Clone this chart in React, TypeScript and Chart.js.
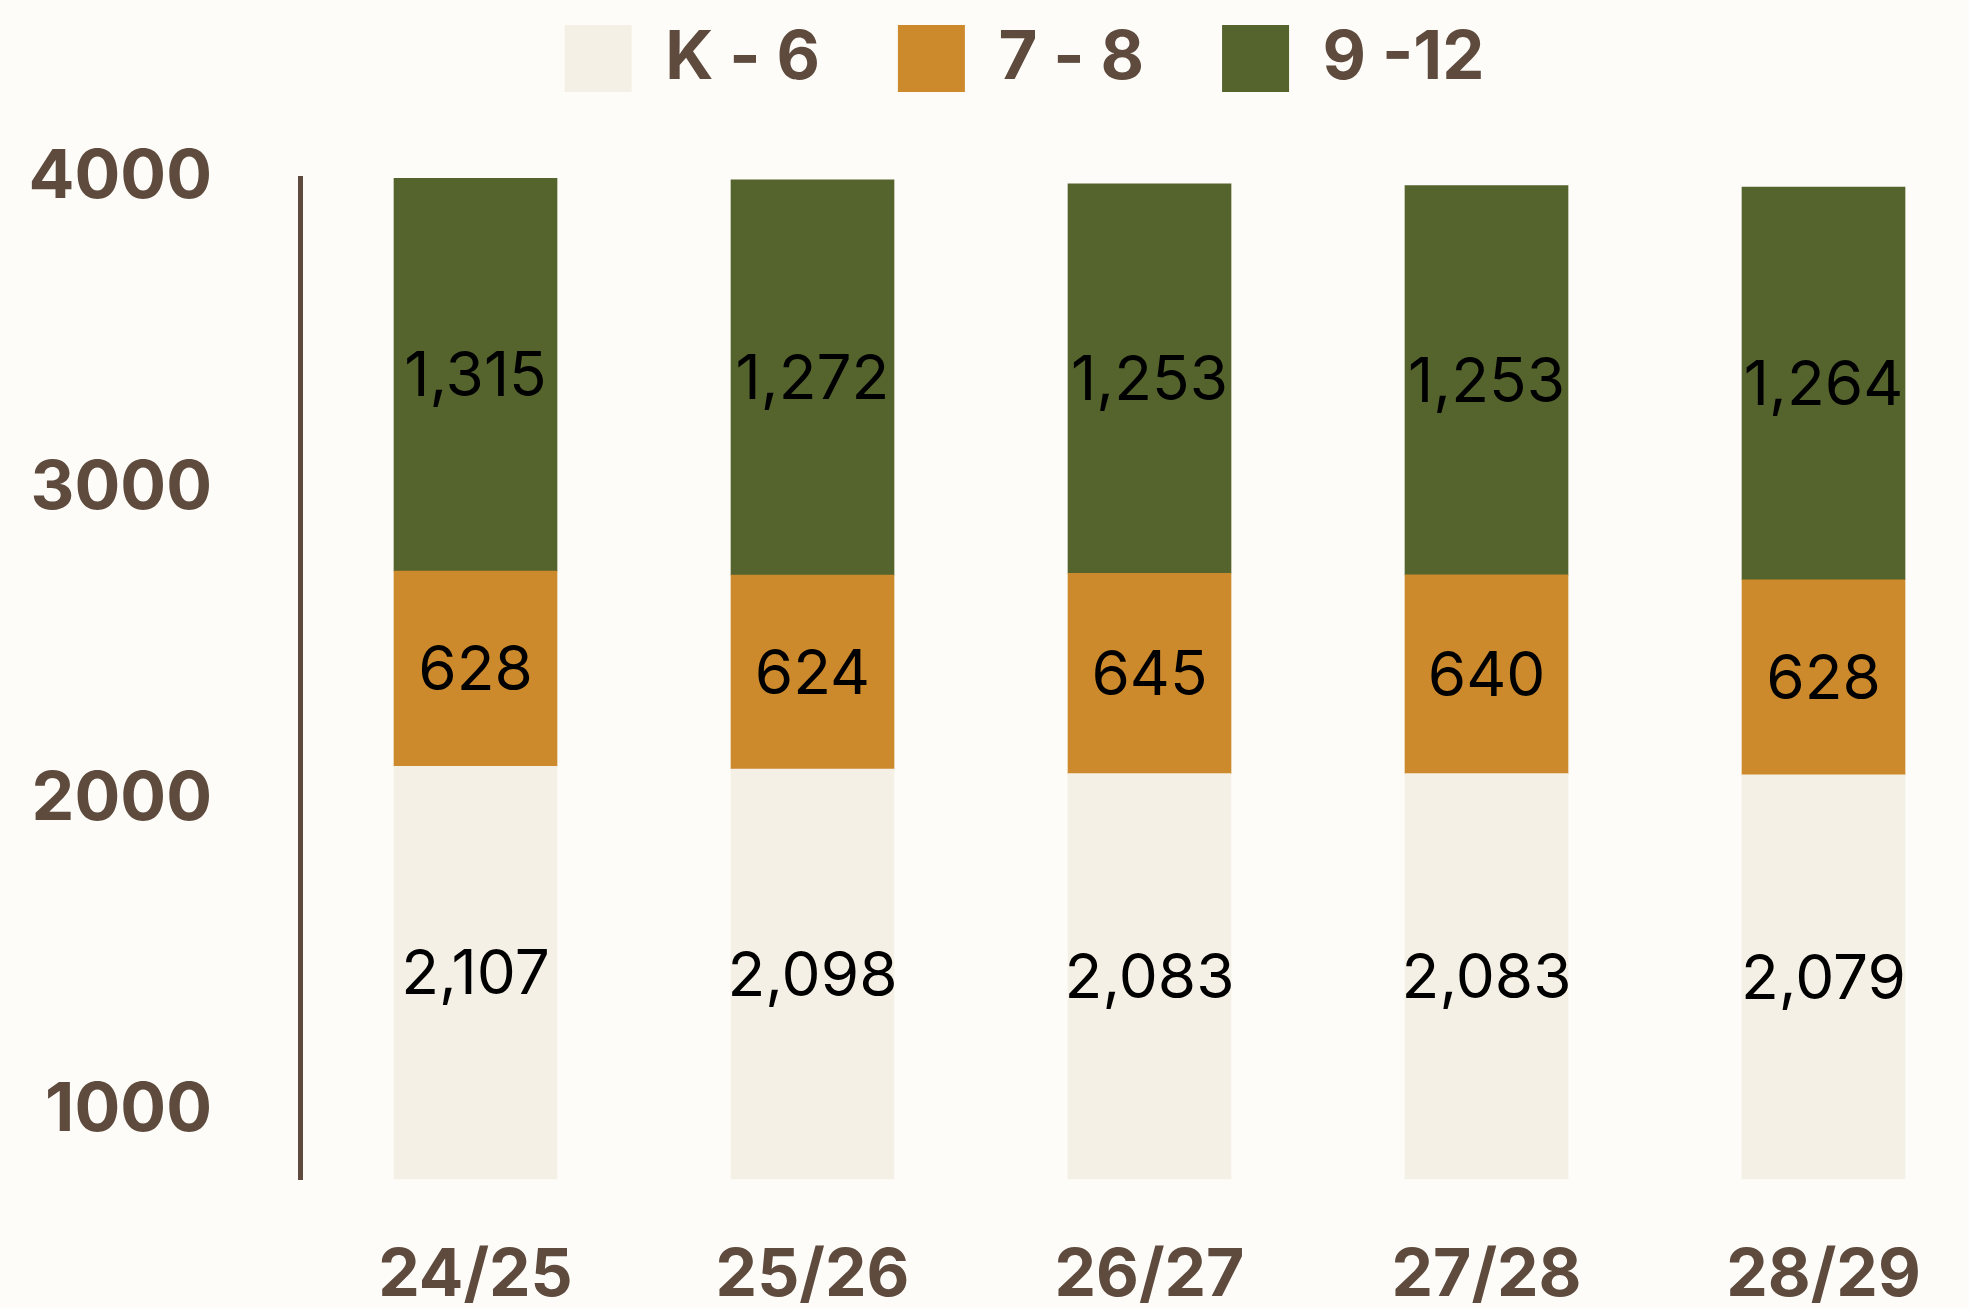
import { useEffect, useRef } from "react";
import { Chart, registerables } from "chart.js";

Chart.register(...registerables);

const categories = ["24/25", "25/26", "26/27", "27/28", "28/29"];
const seriesNames = ["K - 6", "7 - 8", "9 -12"];
const k6Values = [2107, 2098, 2083, 2083, 2079];
const g78Values = [628, 624, 645, 640, 628];
const g912Values = [1315, 1272, 1253, 1253, 1264];
const yTickValues = [1000, 2000, 3000, 4000];

const BG = "#fdfcf8";
const BROWN = "#5f4b3e";
const C_K6 = "#f5f0e5";
const C_78 = "#cc8a2c";
const C_912 = "#55632d";
const FONT = "Inter";

export default function App() {
  const ref = useRef<HTMLCanvasElement>(null);

  useEffect(() => {
    if (!ref.current) return;
    const toXY = (arr: number[]) => arr.map((y, i) => ({ x: i, y }));

    const segLabels = {
      id: "segLabels",
      afterDatasetsDraw(chart: any) {
        const { ctx, chartArea } = chart;
        ctx.save();
        ctx.font = `400 62px ${FONT}`;
        ctx.fillStyle = "#000000";
        ctx.textAlign = "center";
        ctx.textBaseline = "middle";
        chart.data.datasets.forEach((ds: any, di: number) => {
          const meta = chart.getDatasetMeta(di);
          meta.data.forEach((el: any, i: number) => {
            const { x, y, base } = el.getProps(["x", "y", "base"], true);
            const top = Math.max(Math.min(y, base), chartArea.top);
            const bot = Math.min(Math.max(y, base), chartArea.bottom);
            const v = ds.data[i].y as number;
            ctx.fillText(v.toLocaleString("en-US"), x, (top + bot) / 2 + 3);
          });
        });
        ctx.restore();
      },
    };

    const legendSpace = {
      id: "legendSpace",
      beforeInit(chart: any) {
        const legend = chart.legend;
        if (!legend) return;
        const orig = legend.fit;
        legend.fit = function () {
          orig.call(this);
          this.height += 76;
        };
      },
    };

    const chart = new Chart(ref.current, {
      type: "bar",
      data: {
        datasets: [
          { label: seriesNames[0], data: toXY(k6Values) as any, backgroundColor: C_K6, borderWidth: 0, barThickness: 163 },
          { label: seriesNames[1], data: toXY(g78Values) as any, backgroundColor: C_78, borderWidth: 0, barThickness: 163 },
          { label: seriesNames[2], data: toXY(g912Values) as any, backgroundColor: C_912, borderWidth: 0, barThickness: 163 },
        ],
      },
      options: {
        responsive: false,
        animation: false,
        devicePixelRatio: 1,
        events: [],
        layout: { padding: { top: -53, left: 0, right: -80, bottom: 0 } },
        plugins: {
          tooltip: { enabled: false },
          legend: {
            display: true,
            position: "top",
            labels: {
              boxWidth: 67,
              boxHeight: 67,
              padding: 78,
              color: BROWN,
              font: { family: FONT, weight: "bold", size: 67 },
            },
          },
        },
        scales: {
          x: {
            type: "linear",
            stacked: true,
            offset: false,
            min: -175.5 / 337,
            max: 4 + 145.5 / 337,
            grid: { display: false, drawTicks: true, tickLength: 57, offset: false },
            border: { display: false },
            afterBuildTicks: (scale: any) => {
              scale.ticks = categories.map((_, i) => ({ value: i }));
            },
            afterFit: (scale: any) => {
              scale.height = 128;
            },
            ticks: {
              autoSkip: false,
              maxRotation: 0,
              padding: 0,
              color: BROWN,
              font: { family: FONT, weight: "bold", size: 66 },
              callback: (value: any) => categories[Number(value)] ?? "",
            },
          },
          y: {
            stacked: true,
            min: 778,
            max: 4000,
            grid: { display: false, drawTicks: false },
            border: { display: true, color: BROWN, width: 5 },
            afterBuildTicks: (scale: any) => {
              scale.ticks = yTickValues.map((v) => ({ value: v }));
            },
            afterFit: (scale: any) => {
              scale.width = 300;
            },
            ticks: {
              padding: 88,
              color: BROWN,
              font: { family: FONT, weight: "bold", size: 68 },
              callback: (value: any) => String(value),
            },
          },
        },
      },
      plugins: [segLabels, legendSpace],
    });
    return () => chart.destroy();
  }, []);

  return (
    <div
      style={{
        position: "fixed",
        left: 0,
        top: 0,
        width: 1969,
        height: 1308,
        background: BG,
      }}
    >
      <canvas ref={ref} width={1969} height={1308} style={{ display: "block" }} />
    </div>
  );
}
